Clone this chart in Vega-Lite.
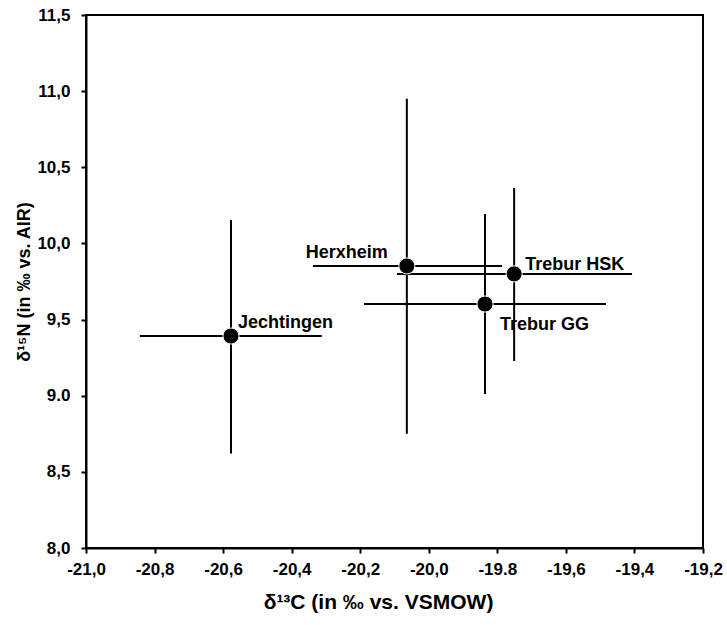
{
  "$schema": "https://vega.github.io/schema/vega-lite/v6.json",
  "width": 617,
  "height": 533,
  "autosize": {"type": "none"},
  "padding": {"left": 86, "top": 15, "right": 24, "bottom": 77},
  "background": "white",
  "config": {
    "font": "Liberation Sans",
    "view": {"stroke": "black", "strokeWidth": 2}
  },
  "data": {
    "values": [
      {"site": "Jechtingen", "c": -20.577, "clo": -20.843, "chi": -20.312, "n": 9.392, "nlo": 8.62, "nhi": 10.154},
      {"site": "Herxheim", "c": -20.064, "clo": -20.338, "chi": -19.786, "n": 9.852, "nlo": 8.75, "nhi": 10.95},
      {"site": "Trebur HSK", "c": -19.751, "clo": -20.093, "chi": -19.407, "n": 9.80, "nlo": 9.228, "nhi": 10.364},
      {"site": "Trebur GG", "c": -19.836, "clo": -20.189, "chi": -19.483, "n": 9.602, "nlo": 9.011, "nhi": 10.193}
    ]
  },
  "layer": [
    {
      "mark": {"type": "rule", "color": "black", "strokeWidth": 2},
      "encoding": {
        "x": {
          "field": "clo", "type": "quantitative",
          "scale": {"domain": [-21, -19.2], "nice": false, "zero": false},
          "axis": {
            "values": [-21, -20.8, -20.6, -20.4, -20.2, -20, -19.8, -19.6, -19.4, -19.2],
            "labelExpr": "datum.value === -19.8 ? '-19.8' : '-' + replace(format(abs(datum.value), '.1f'), '.', ',')",
            "labelFlush": false,
            "labelOverlap": false,
            "grid": false,
            "domainColor": "black",
            "domainWidth": 2,
            "tickColor": "black",
            "tickWidth": 2,
            "tickSize": 5,
            "labelFont": "Liberation Sans",
            "labelFontWeight": "bold",
            "labelFontSize": 17,
            "labelColor": "black",
            "labelPadding": 8,
            "title": "δ¹³C (in ‰ vs. VSMOW)",
            "titleFont": "Liberation Sans",
            "titleFontWeight": "bold",
            "titleColor": "black",
            "titleFontSize": 21,
            "titlePadding": 14,
            "titleX": 292
          }
        },
        "x2": {"field": "chi"},
        "y": {
          "field": "n", "type": "quantitative",
          "scale": {"domain": [8, 11.5], "nice": false, "zero": false},
          "axis": {
            "values": [8, 8.5, 9, 9.5, 10, 10.5, 11, 11.5],
            "labelExpr": "datum.value === 9 ? '9.0' : replace(format(datum.value, '.1f'), '.', ',')",
            "labelFlush": false,
            "labelOverlap": false,
            "grid": false,
            "domainColor": "black",
            "domainWidth": 2,
            "tickColor": "black",
            "tickWidth": 2,
            "tickSize": 5,
            "labelFont": "Liberation Sans",
            "labelFontWeight": "bold",
            "labelFontSize": 17,
            "labelColor": "black",
            "labelPadding": 11,
            "title": "δ¹⁵N (in ‰ vs. AIR)",
            "titleFont": "Liberation Sans",
            "titleFontWeight": "bold",
            "titleColor": "black",
            "titleFontSize": 18,
            "titlePadding": 3
          }
        }
      }
    },
    {
      "mark": {"type": "rule", "color": "black", "strokeWidth": 2},
      "encoding": {
        "x": {"field": "c", "type": "quantitative"},
        "y": {"field": "nlo", "type": "quantitative"},
        "y2": {"field": "nhi"}
      }
    },
    {
      "mark": {"type": "point", "filled": true, "color": "black", "size": 260, "opacity": 1, "stroke": "white", "strokeWidth": 1},
      "encoding": {
        "x": {"field": "c", "type": "quantitative"},
        "y": {"field": "n", "type": "quantitative"}
      }
    },
    {
      "transform": [{"filter": "datum.site === 'Jechtingen'"}],
      "mark": {"type": "text", "align": "left", "baseline": "alphabetic", "dx": 7, "dy": -8, "fontWeight": "bold", "fontSize": 18, "color": "black"},
      "encoding": {
        "x": {"field": "c", "type": "quantitative"},
        "y": {"field": "n", "type": "quantitative"},
        "text": {"field": "site"}
      }
    },
    {
      "transform": [{"filter": "datum.site === 'Herxheim'"}],
      "mark": {"type": "text", "align": "right", "baseline": "alphabetic", "dx": -19, "dy": -8, "fontWeight": "bold", "fontSize": 18, "color": "black"},
      "encoding": {
        "x": {"field": "c", "type": "quantitative"},
        "y": {"field": "n", "type": "quantitative"},
        "text": {"field": "site"}
      }
    },
    {
      "transform": [{"filter": "datum.site === 'Trebur HSK'"}],
      "mark": {"type": "text", "align": "left", "baseline": "alphabetic", "dx": 11, "dy": -4, "fontWeight": "bold", "fontSize": 18, "color": "black"},
      "encoding": {
        "x": {"field": "c", "type": "quantitative"},
        "y": {"field": "n", "type": "quantitative"},
        "text": {"field": "site"}
      }
    },
    {
      "transform": [{"filter": "datum.site === 'Trebur GG'"}],
      "mark": {"type": "text", "align": "left", "baseline": "alphabetic", "dx": 15, "dy": 26, "fontWeight": "bold", "fontSize": 18, "color": "black"},
      "encoding": {
        "x": {"field": "c", "type": "quantitative"},
        "y": {"field": "n", "type": "quantitative"},
        "text": {"field": "site"}
      }
    }
  ]
}
